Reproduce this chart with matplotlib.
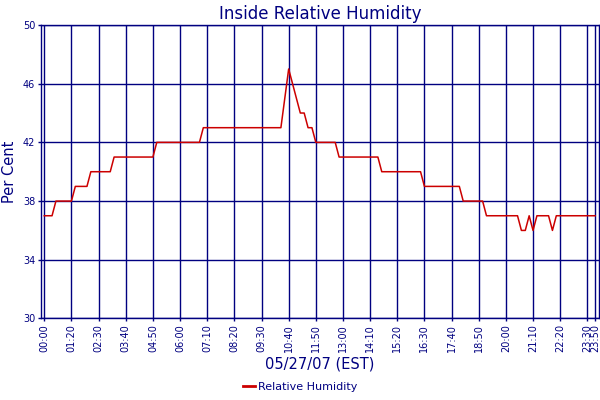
import matplotlib
matplotlib.use("Agg")
import matplotlib.pyplot as plt
from matplotlib.lines import Line2D

# humidity readings, one per sample (roughly every 10 min)
humidity = [
    37, 37, 37, 38, 38, 38, 38, 38, 39, 39,
    39, 39, 40, 40, 40, 40, 40, 40, 41, 41,
    41, 41, 41, 41, 41, 41, 41, 41, 41, 42,
    42, 42, 42, 42, 42, 42, 42, 42, 42, 42,
    42, 43, 43, 43, 43, 43, 43, 43, 43, 43,
    43, 43, 43, 43, 43, 43, 43, 43, 43, 43,
    43, 43, 45, 47, 46, 45, 44, 44, 43, 43,
    42, 42, 42, 42, 42, 42, 41, 41, 41, 41,
    41, 41, 41, 41, 41, 41, 41, 40, 40, 40,
    40, 40, 40, 40, 40, 40, 40, 40, 39, 39,
    39, 39, 39, 39, 39, 39, 39, 39, 38, 38,
    38, 38, 38, 38, 37, 37, 37, 37, 37, 37,
    37, 37, 37, 36, 36, 37, 36, 37, 37, 37,
    37, 36, 37, 37, 37, 37, 37, 37, 37, 37,
    37, 37, 37,
]

tick_idx = [0, 7, 14, 21, 28, 35, 42, 49, 56, 63, 70, 77, 84, 91, 98,
            105, 112, 119, 126, 133, 140, 142]
tick_labels = ["00:00", "01:20", "02:30", "03:40", "04:50", "06:00", "07:10",
               "08:20", "09:30", "10:40", "11:50", "13:00", "14:10", "15:20",
               "16:30", "17:40", "18:50", "20:00", "21:10", "22:20", "23:30",
               "23:50"]
y_ticks = [30, 34, 38, 42, 46, 50]

navy = "#000080"
red = "#cc0000"

plt.rcParams["font.family"] = ["DejaVu Sans"]

fig = plt.figure(figsize=(6, 4), dpi=100)
ax = fig.add_axes([0.0678, 0.2038, 0.9305, 0.7338])

ax.plot(range(len(humidity)), humidity, color=red, lw=1.1, zorder=3)

ax.set_xlim(-0.93, 143.0)
ax.set_ylim(30, 50)
ax.set_xticks(tick_idx)
ax.set_xticklabels(tick_labels, rotation=90, fontsize=7, color=navy)
ax.set_yticks(y_ticks)
ax.set_yticklabels([str(v) for v in y_ticks], fontsize=7, color=navy)
ax.tick_params(length=2, width=1, color=navy, pad=2)
ax.grid(True, color=navy, lw=1)
ax.set_axisbelow(True)
for s in ax.spines.values():
    s.set_color(navy)
    s.set_linewidth(1)

ax.set_title("Inside Relative Humidity", fontsize=12, color=navy, pad=4)
ax.set_ylabel("Per Cent", fontsize=10.5, color=navy, labelpad=4)
ax.set_xlabel("05/27/07 (EST)", fontsize=10.5, color=navy, labelpad=3)

handle = Line2D([], [], color=red, lw=2)
fig.legend([handle], ["Relative Humidity"], loc="lower center",
           bbox_to_anchor=(0.5, -0.005), frameon=False, fontsize=8,
           handlelength=1.1, handletextpad=0.3, labelcolor=navy)

fig.savefig("out.png", dpi=100)
